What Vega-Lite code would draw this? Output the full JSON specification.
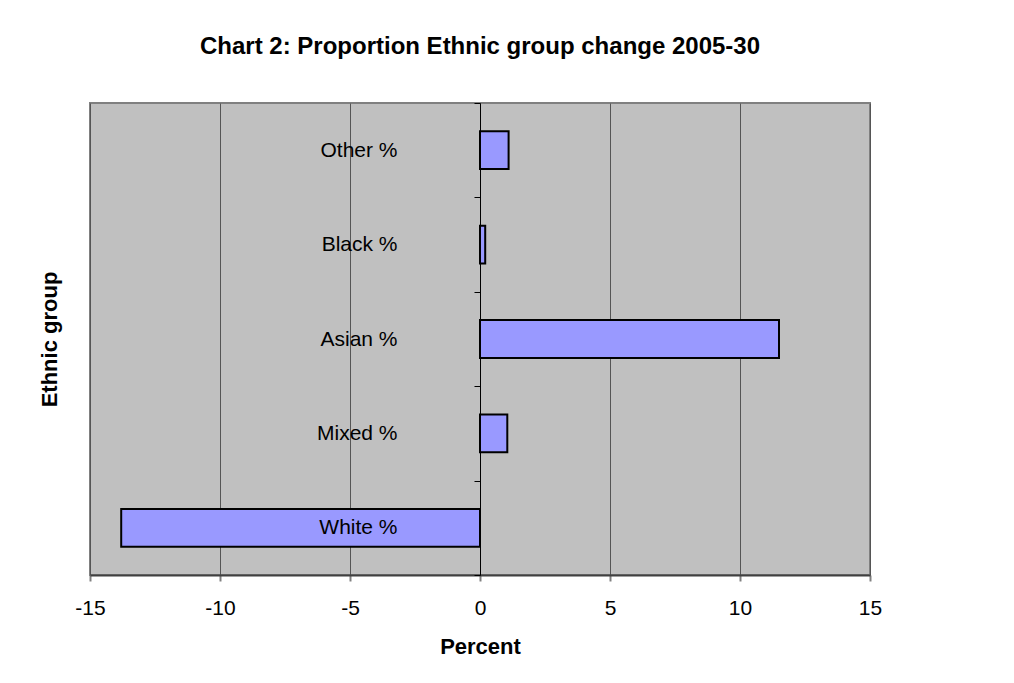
{
  "$schema": "https://vega.github.io/schema/vega-lite/v6.json",
  "autosize": {"type": "none"},
  "width": 780,
  "height": 472,
  "padding": {"left": 90, "top": 103, "right": 144, "bottom": 108},
  "background": "white",
  "title": {
    "text": "Chart 2: Proportion Ethnic group change 2005-30",
    "font": "Liberation Sans",
    "fontSize": 24,
    "fontWeight": "bold",
    "color": "black",
    "anchor": "middle",
    "frame": "group",
    "baseline": "alphabetic",
    "offset": 14
  },
  "config": {
    "view": {"fill": "#C0C0C0", "stroke": "#808080", "strokeWidth": 2},
    "font": "Liberation Sans"
  },
  "data": {
    "values": [
      {"group": "Other %", "value": 1.1},
      {"group": "Black %", "value": 0.2},
      {"group": "Asian %", "value": 11.5},
      {"group": "Mixed %", "value": 1.05},
      {"group": "White %", "value": -13.8}
    ]
  },
  "mark": {"type": "bar", "fill": "#9999FF", "stroke": "black", "strokeWidth": 2, "height": {"band": 0.4}},
  "encoding": {
    "y": {
      "field": "group",
      "type": "nominal",
      "sort": ["Other %", "Black %", "Asian %", "Mixed %", "White %"],
      "scale": {"paddingInner": 0, "paddingOuter": 0},
      "axis": {
        "title": "Ethnic group",
        "titleFont": "Liberation Sans",
        "titleFontSize": 22,
        "titleFontWeight": "bold",
        "titleColor": "black",
        "titleAngle": -90,
        "titleBaseline": "alphabetic",
        "titleAlign": "center",
        "titleX": -424,
        "titleY": 236,
        "offset": -390,
        "tickBand": "extent",
        "domain": true,
        "domainColor": "black",
        "domainWidth": 1,
        "ticks": true,
        "tickColor": "black",
        "tickSize": 6,
        "tickWidth": 1,
        "labelPadding": 77,
        "labelFont": "Liberation Sans",
        "labelFontSize": 21,
        "labelColor": "black",
        "labelAlign": "right",
        "grid": false,
        "zindex": 1
      }
    },
    "x": {
      "field": "value",
      "type": "quantitative",
      "scale": {"domain": [-15, 15], "nice": false, "zero": false},
      "axis": {
        "title": "Percent",
        "titleFont": "Liberation Sans",
        "titleFontSize": 22,
        "titleFontWeight": "bold",
        "titleColor": "black",
        "titleBaseline": "alphabetic",
        "titleY": 78,
        "values": [-15, -10, -5, 0, 5, 10, 15],
        "labelExpr": "'' + datum.value",
        "grid": true,
        "gridColor": "#555555",
        "gridWidth": 1,
        "domainColor": "#404040",
        "domainWidth": 2,
        "tickColor": "#808080",
        "tickSize": 6,
        "tickWidth": 2,
        "labelPadding": 16,
        "labelFont": "Liberation Sans",
        "labelFontSize": 21,
        "labelColor": "black",
        "labelFlush": false,
        "zindex": 0
      }
    }
  }
}
